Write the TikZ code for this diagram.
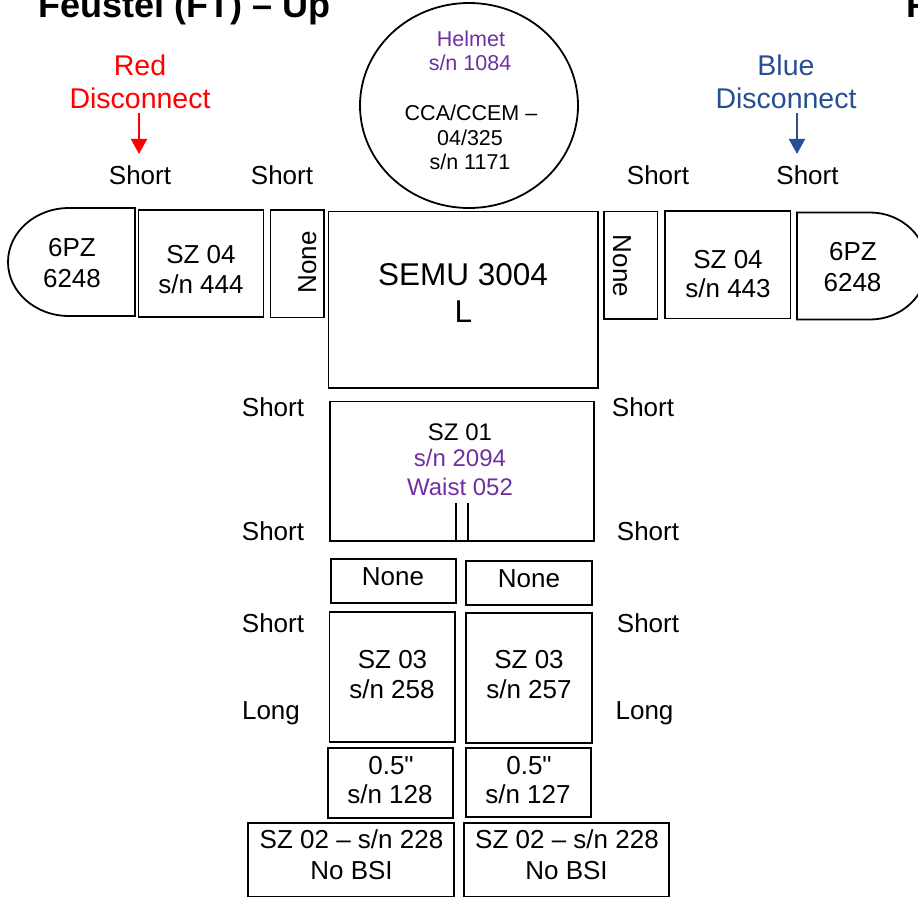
\documentclass[tikz,border=0pt]{standalone}
\usepackage{fontspec}
\setmainfont{Liberation Sans}
\newfontfamily\qfont{Liberation Sans}
\usetikzlibrary{shapes.geometric,arrows.meta}
\definecolor{purp}{RGB}{112,48,160}
\definecolor{dblue}{RGB}{38,80,145}
\begin{document}
\begin{tikzpicture}[x=1pt,y=-1pt,
  shp/.style={draw,line width=1.8pt},
  box/.style={shp,inner sep=0,outer sep=0},
  lbl/.style={inner sep=0,anchor=base,font=\fontsize{26}{30}\selectfont},
  sml/.style={inner sep=0,anchor=base,font=\fontsize{24}{28}\selectfont},
  hel/.style={inner sep=0,anchor=base,font=\fontsize{21.5}{25}\selectfont},
  big/.style={inner sep=0,anchor=base,font=\fontsize{31.5}{36}\selectfont},
  disc/.style={inner sep=0,anchor=base,font=\fontsize{28.5}{33}\selectfont},
  ttl/.style={inner sep=0,anchor=base west,font=\bfseries\fontsize{36}{40}\selectfont},
  darr/.style={line width=2pt,-{Triangle[width=16pt,length=15pt]},shorten >=11pt}]
\useasboundingbox (0,0) rectangle (918,898);
\clip (0,0) rectangle (918,898);

% title
\node[ttl] (title) at (38.5,17) {Feustel (FT) -- Up};
\node[ttl] (title2) at (906.5,17) {F};

% helmet
\node[shp,ellipse,minimum width=218,minimum height=205,inner sep=0] (helmet) at (469,105.5) {};
\node[hel,text=purp] (h1) at (471,46.5) {Helmet};
\node[hel,text=purp] (h2) at (470,70.5) {s/n 1084};
\node[hel] (h3) at (471,120.5) {CCA/CCEM --};
\node[hel] (h4) at (470,145) {04/325};
\node[hel] (h5) at (470,169.5) {s/n 1171};

% disconnect labels
\node[disc,text=red] (redA) at (140,75) {Red};
\node[disc,text=red] (redD) at (140,108) {Disconnect};
\node[disc,text=dblue] (blueA) at (786,75) {Blue};
\node[disc,text=dblue] (blueD) at (786,108) {Disconnect};

% top shorts
\node[lbl] (s1) at (140,184) {Short};
\node[lbl] (s2) at (282,184) {Short};
\node[lbl] (s3) at (658,184) {Short};
\node[lbl] (s4) at (807.5,184) {Short};

\coordinate (ra) at (139,113);
\coordinate (ba) at (797,113);
\draw[darr,red] (ra) -- (ra |- s1.north);
\draw[darr,dblue] (ba) -- (ba |- s4.north);

% arms
\draw[shp] (135,208) -- (69,208) arc[start angle=270,end angle=90,x radius=61,y radius=54] -- (135,316) -- cycle;
\node[lbl] (pzl1) at (72,256) {6PZ};
\node[lbl] (pzl2) at (72,287) {6248};

\node[box,minimum width=125,minimum height=107] (sz04l) at (201,263.5) {};
\node[lbl] (sz04l1) at (201,263) {SZ 04};
\node[lbl] (sz04l2) at (201,293) {s/n 444};

\node[box,minimum width=53.5,minimum height=107.5] (nonel) at (297.25,263.75) {};
\node[lbl,rotate=90] (nonelt) at (316,262.5) {None};

\node[box,minimum width=269.5,minimum height=176.5] (semu) at (463.25,299.75) {};
\node[big] (semu1) at (463,285) {SEMU 3004};
\node[big] (semu2) at (463.5,322) {L};

\node[box,minimum width=53.5,minimum height=107.5] (noner) at (630.75,265.25) {};
\node[lbl,rotate=-90] (nonert) at (613,266) {None};

\node[box,minimum width=125.5,minimum height=107.5] (sz04r) at (727.75,264.75) {};
\node[lbl] (sz04r1) at (728,268) {SZ 04};
\node[lbl] (sz04r2) at (728,297) {s/n 443};

\draw[shp] (797,212.5) -- (870,212.5) arc[start angle=270,end angle=450,x radius=57,y radius=53.5] -- (797,319.5) -- cycle;
\node[lbl] (pzr1) at (853,260) {6PZ};
\node[lbl] (pzr2) at (852.5,291) {6248};

% waist
\node[box,minimum width=264,minimum height=139.5] (sz01) at (462,471.25) {};
\node[sml] (sz011) at (460,440) {SZ 01};
\node[sml,text=purp] (sz012) at (460,466) {s/n 2094};
\node[sml,text=purp] (sz013) at (460,495) {Waist 052};
\draw[line width=1.8pt] ([xshift=-6.3pt]sz01.south) -- ++(0,-38);
\draw[line width=1.8pt] ([xshift=5.7pt]sz01.south) -- ++(0,-38);

\node[lbl] (s5) at (273,416) {Short};
\node[lbl] (s6) at (643,416) {Short};
\node[lbl] (s7) at (273,540) {Short};
\node[lbl] (s8) at (648,540) {Short};

% legs
\node[box,minimum width=125,minimum height=44] (none1) at (393.5,581) {};
\node[lbl] (none1t) at (393,585) {None};
\node[box,minimum width=126,minimum height=44] (none2) at (529,583) {};
\node[lbl] (none2t) at (529,587) {None};

\node[lbl] (s9) at (273,632) {Short};
\node[lbl] (s10) at (648,632) {Short};
\node[lbl] (l1) at (271,719) {Long};
\node[lbl] (l2) at (644.5,719) {Long};

\node[box,minimum width=125.5,minimum height=130] (sz03a) at (392.25,677) {};
\node[lbl] (sz03a1) at (392.5,668) {SZ 03};
\node[lbl] (sz03a2) at (392,698) {s/n 258};
\node[box,minimum width=126,minimum height=130] (sz03b) at (529,678) {};
\node[lbl] (sz03b1) at (529,668) {SZ 03};
\node[lbl] (sz03b2) at (529,698) {s/n 257};

\node[box,minimum width=125,minimum height=70] (half1) at (390.5,783) {};
\node[lbl] (half11) at (391,774) {\qfont 0.5"};
\node[lbl] (half12) at (390,803) {s/n 128};
\node[box,minimum width=125,minimum height=69] (half2) at (528.5,782.5) {};
\node[lbl] (half21) at (529,774) {\qfont 0.5"};
\node[lbl] (half22) at (528,803) {s/n 127};

\node[box,minimum width=206,minimum height=73.5] (sz02a) at (351,859.75) {};
\node[lbl] (sz02a1) at (351.5,848) {SZ 02 -- s/n 228};
\node[lbl] (sz02a2) at (351.5,879) {No BSI};
\node[box,minimum width=205,minimum height=73.5] (sz02b) at (566.5,859.75) {};
\node[lbl] (sz02b1) at (567,848) {SZ 02 -- s/n 228};
\node[lbl] (sz02b2) at (566.5,879) {No BSI};
\end{tikzpicture}
\end{document}
